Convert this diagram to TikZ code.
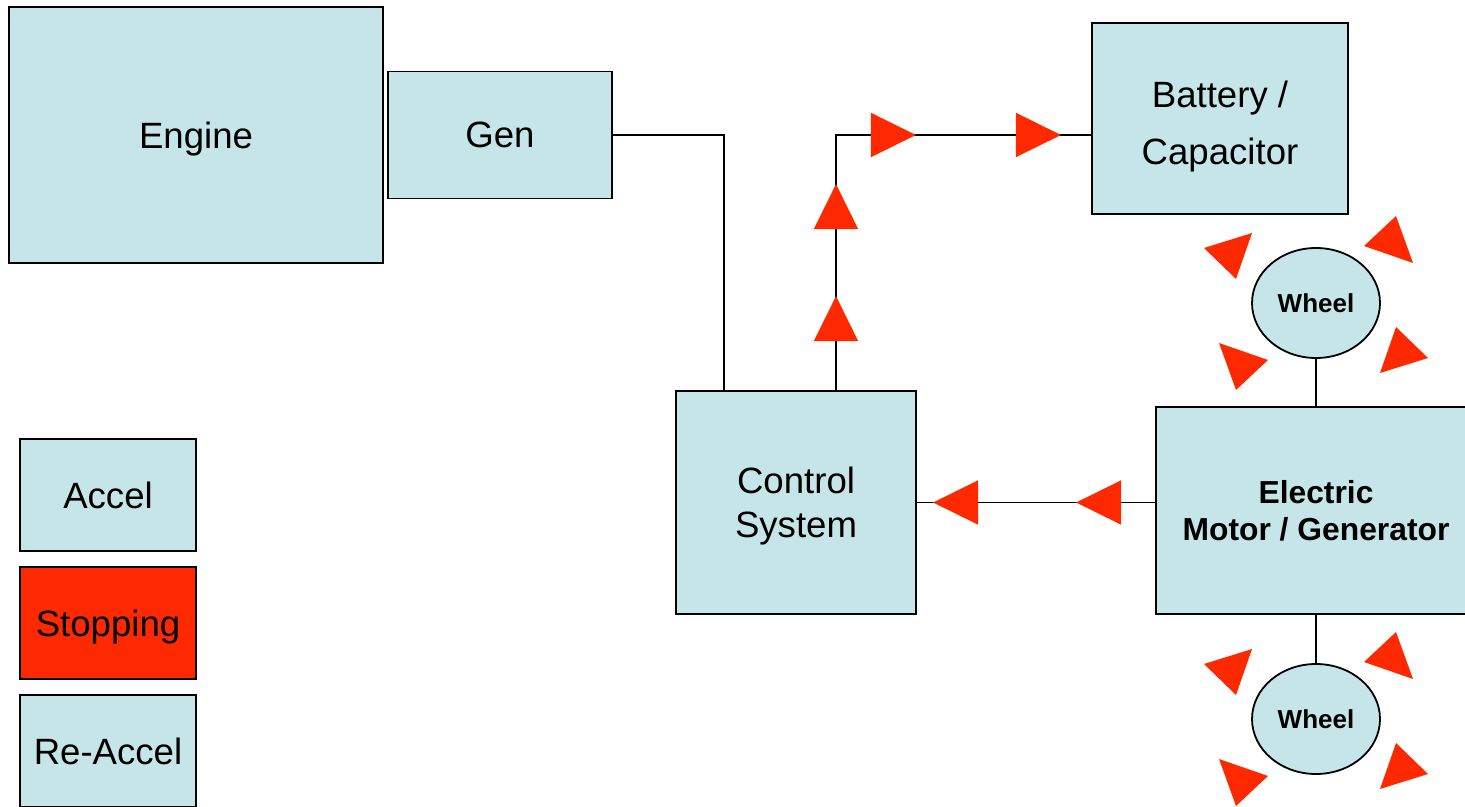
\documentclass[tikz,border=0pt]{standalone}
\usepackage{fontspec}
\setmainfont{Liberation Sans}
\usetikzlibrary{shapes.geometric,arrows.meta,decorations.markings}
\definecolor{boxblue}{RGB}{198,229,232}
\definecolor{stopred}{RGB}{255,41,0}

\begin{document}
\begin{tikzpicture}[x=0.5pt,y=-0.5pt,line width=0.9pt,
    box/.style={rectangle,draw,fill=boxblue,inner sep=0pt,align=center,text depth=0pt,font=\fontsize{18.3}{22}\selectfont},
    wheel/.style={ellipse,draw,fill=boxblue,inner sep=0pt,minimum width=64pt,minimum height=55pt,font=\bfseries\fontsize{13}{15}\selectfont},
    redtip/.style={postaction={decorate,decoration={markings,mark=at position #1 with {\arrow{Triangle[length=22.5pt,width=22pt,color=stopred]}}}}}]
        \useasboundingbox (0,0) rectangle (1465,807);

        \node[box,minimum width=187pt,minimum height=128pt] at (196,135) (engine) {Engine};
        \node[box,minimum width=112pt,minimum height=63.5pt] at (500,135) (gen) {Gen};
        \node[box,minimum width=128pt,minimum height=95.5pt,text height=45.9pt,font=\fontsize{18.3}{28.5}\selectfont] at (1220,118.5) (battery) {Battery /\\Capacitor};
        \node[box,minimum width=120pt,minimum height=111.5pt] at (796,502.5) (control) {Control\\System};
        \node[box,minimum width=160pt,minimum height=103.5pt,font=\bfseries\fontsize{15.9}{18.5}\selectfont] at (1316,510.5) (motor) {Electric\\Motor / Generator};
        \node[wheel] at (1316,303) (wheel1) {Wheel};
        \node[wheel] at (1316,719) (wheel2) {Wheel};

        % legend
        \node[box,minimum width=88pt,minimum height=56pt] at (108,495) (accel) {Accel};
        \node[box,minimum width=88pt,minimum height=56pt,fill=stopred] at (108,623) (stopping) {Stopping};
        \node[box,minimum width=88pt,minimum height=56pt] at (108,751) (reaccel) {Re-Accel};

        \coordinate (genbend) at (724,135);
        \coordinate (upbend) at (836,135);

        \draw(gen.east) -- (genbend) -- (genbend |- control.north);
        \draw[redtip=47pt,redtip=103pt,redtip=167.5pt,redtip=240pt] (upbend |- control.north) -- (upbend) -- (upbend -| battery.west);
        \draw[redtip=39.5pt,redtip=111pt] (motor.west |- control.east) -- (control.east);
        \draw(wheel1.south) -- (motor.north);
        \draw(motor.south) -- (wheel2.north);

        % spinning wheels
        \foreach \w in {wheel1,wheel2}
            \foreach \r in {0,180} {
                \fill[stopred,shift={(\w.center)},rotate=\r] (-112,-55) -- (-64,-70) -- (-80,-24) -- cycle;
                \fill[stopred,shift={(\w.center)},rotate=\r] (48,-57) -- (80,-87) -- (97,-40) -- cycle;
            }
    \end{tikzpicture}
\end{document}
